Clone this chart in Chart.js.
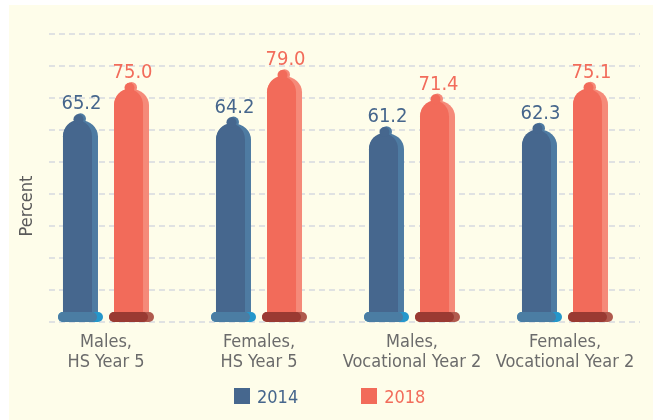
<!DOCTYPE html>
<html>
<head>
<meta charset="utf-8">
<script src="https://cdn.jsdelivr.net/npm/chart.js@4.4.0/dist/chart.umd.min.js"></script>
<style>
  html, body { margin: 0; padding: 0; background: #fff; }
  .wrap { position: relative; width: 653px; height: 420px; overflow: hidden; }
  .bg { position: absolute; left: 9px; top: 5px; right: 0; bottom: 0; background: #FEFDEA; }
  canvas { position: absolute; left: 0; top: 0; }
  #legend { position: absolute; left: 234px; top: 388px; display: flex;
    font: 18px "DejaVu Sans Condensed", "DejaVu Sans", sans-serif; }
  #legend .item { display: flex; align-items: center; height: 16px; margin-right: 63px; }
  #legend .box { width: 16px; height: 16px; margin-right: 7px; }
</style>
</head>
<body>
<div class="wrap">
  <div class="bg"></div>
  <canvas id="chart" width="653" height="420"></canvas>
  <div id="legend"></div>
</div>
<script>
const categories = [
  ["Males,", "HS Year 5"],
  ["Females,", "HS Year 5"],
  ["Males,", "Vocational Year 2"],
  ["Females,", "Vocational Year 2"]
];
const seriesNames = ["2014", "2018"];
const values2014 = [65.2, 64.2, 61.2, 62.3];
const values2018 = [75.0, 79.0, 71.4, 75.1];
const yMax = 90;
const yStep = 10;

const FONT = '"DejaVu Sans Condensed", "DejaVu Sans", sans-serif';

// colours per series: body, highlight, rim, rim end, label
const palette = [
  { body: "#46678E", light: "#4E7BA2", rim: "#4B7DA3", rimEnd: "#2597CB", text: "#46668C" },
  { body: "#F26B5A", light: "#F58A79", rim: "#9A3A32", rimEnd: "#B05A4E", text: "#F26C5B" }
];

function pill(ctx, x, y, w, h) {
  const r = h / 2;
  ctx.beginPath();
  ctx.moveTo(x + r, y);
  ctx.lineTo(x + w - r, y);
  ctx.arc(x + w - r, y + r, r, -Math.PI / 2, Math.PI / 2);
  ctx.lineTo(x + r, y + h);
  ctx.arc(x + r, y + r, r, Math.PI / 2, Math.PI * 1.5);
  ctx.closePath();
  ctx.fill();
}

function domeBody(ctx, left, w, top, bottom) {
  const rx = w / 2, ry = 16;
  const cx = left + rx;
  ctx.beginPath();
  ctx.moveTo(left, bottom);
  ctx.lineTo(left, top + ry);
  ctx.ellipse(cx, top + ry, rx, ry, 0, Math.PI, Math.PI * 2);
  ctx.lineTo(left + w, bottom);
  ctx.closePath();
  ctx.fill();
}

function drawCondom(ctx, cx, top, base, w, c) {
  const rimH = 10;
  const bodyBottom = base - rimH + 1;
  const domeTop = top + 7;
  // light layer
  ctx.fillStyle = c.light;
  domeBody(ctx, cx - w / 2, w, domeTop, bodyBottom);
  ctx.beginPath();
  ctx.arc(cx, top + 5.5, 5.5, 0, Math.PI * 2);
  ctx.fill();
  // main layer
  ctx.fillStyle = c.body;
  domeBody(ctx, cx - w / 2, w - 6, domeTop, bodyBottom);
  ctx.beginPath();
  ctx.arc(cx - 2, top + 5.8, 5, 0, Math.PI * 2);
  ctx.fill();
  // rim
  const rimW = w + 10;
  ctx.fillStyle = c.rimEnd;
  pill(ctx, cx - rimW / 2, base - rimH, rimW, rimH);
  ctx.fillStyle = c.rim;
  pill(ctx, cx - rimW / 2, base - rimH, rimW - 6, rimH);
}

const condomPlugin = {
  id: "condoms",
  beforeDatasetsDraw(chart) {
    const ctx = chart.ctx;
    const ys = chart.scales.y;
    ctx.save();
    ctx.strokeStyle = "#D6D9DF";
    ctx.lineWidth = 1.5;
    ctx.setLineDash([6, 4]);
    for (let v = 0; v <= yMax; v += yStep) {
      const py = Math.round(ys.getPixelForValue(v));
      ctx.beginPath();
      ctx.moveTo(49, py);
      ctx.lineTo(chart.chartArea.right - 1.5, py);
      ctx.stroke();
    }
    ctx.restore();

    // y axis title
    ctx.save();
    ctx.translate(27, 206);
    ctx.rotate(-Math.PI / 2);
    ctx.font = "18px " + FONT;
    ctx.fillStyle = "#5A5A5A";
    ctx.textAlign = "center";
    ctx.textBaseline = "middle";
    ctx.fillText("Percent", 0, 0);
    ctx.restore();
  },
  beforeDatasetDraw() {
    return false;
  },
  afterDatasetsDraw(chart) {
    const ctx = chart.ctx;
    ctx.save();
    chart.data.datasets.forEach((ds, i) => {
      const meta = chart.getDatasetMeta(i);
      const c = palette[i];
      meta.data.forEach((bar, j) => {
        drawCondom(ctx, bar.x, bar.y, bar.base, bar.width, c);
        ctx.font = "20px " + FONT;
        ctx.fillStyle = c.text;
        ctx.textAlign = "center";
        ctx.textBaseline = "alphabetic";
        ctx.fillText(ds.data[j].toFixed(1), bar.x + 1, bar.y - 4);
      });
    });
    ctx.restore();
  }
};

Chart.defaults.font.family = FONT;

const chart = new Chart(document.getElementById("chart"), {
  type: "bar",
  data: {
    labels: categories,
    datasets: [
      { label: seriesNames[0], data: values2014, backgroundColor: palette[0].body },
      { label: seriesNames[1], data: values2018, backgroundColor: palette[1].body }
    ]
  },
  options: {
    responsive: false,
    animation: false,
    categoryPercentage: 0.667,
    barPercentage: 0.686,
    layout: { padding: { left: 29.5, right: 11.5, top: 34, bottom: 38 } },
    scales: {
      x: {
        grid: { display: false, drawTicks: false },
        border: { display: false },
        ticks: {
          color: "#6B6B6B",
          font: { size: 18, lineHeight: 1.11 },
          padding: 10,
          maxRotation: 0,
          autoSkip: false
        }
      },
      y: {
        display: false,
        min: 0,
        max: yMax,
        ticks: { stepSize: yStep }
      }
    },
    plugins: {
      legend: { display: false },
      tooltip: { enabled: false }
    }
  },
  plugins: [condomPlugin]
});

// html legend below the chart
const legendEl = document.getElementById("legend");
chart.data.datasets.forEach((ds, i) => {
  const item = document.createElement("div");
  item.className = "item";
  const box = document.createElement("span");
  box.className = "box";
  box.style.background = ds.backgroundColor;
  const txt = document.createElement("span");
  txt.textContent = ds.label;
  txt.style.color = palette[i].text;
  item.appendChild(box);
  item.appendChild(txt);
  legendEl.appendChild(item);
});
</script>
</body>
</html>
